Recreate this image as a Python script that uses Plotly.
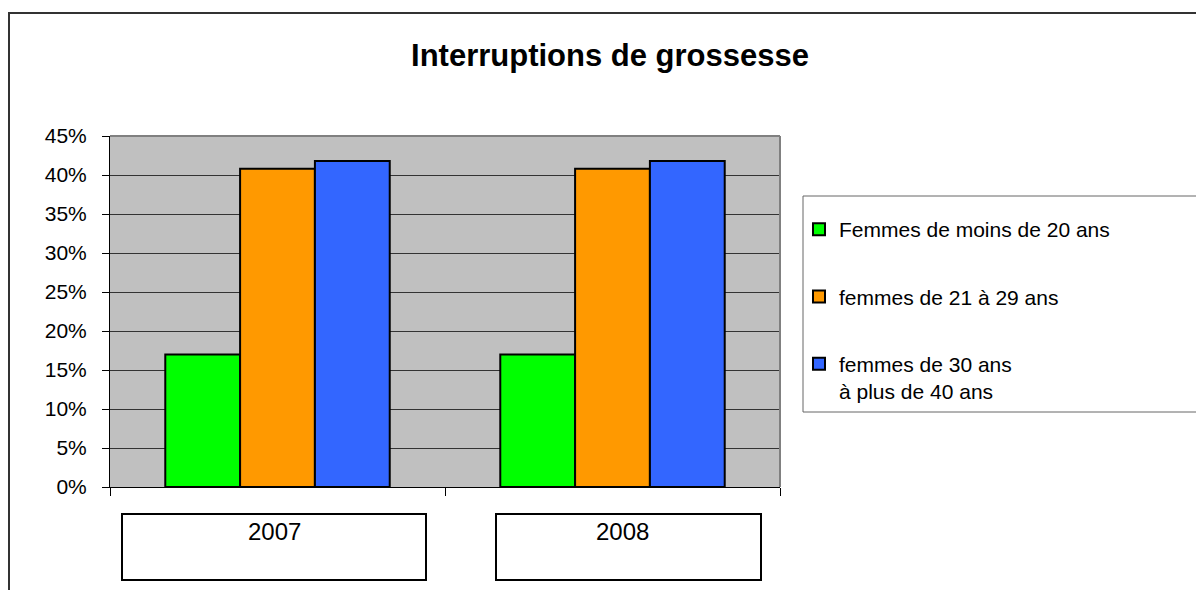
import plotly.graph_objects as go

years = ["2007", "2008"]
series_names = ["Femmes de moins de 20 ans", "femmes de 21 à 29 ans",
                "femmes de 30 ans<br>à plus de 40 ans"]
moins_20 = [0.17, 0.17]
de_21_29 = [0.408, 0.408]
de_30_40 = [0.418, 0.418]
colors = ["#00FF00", "#FF9900", "#3366FF"]
ytick_vals = [0, 0.05, 0.10, 0.15, 0.20, 0.25, 0.30, 0.35, 0.40, 0.45]

# the page body has an 8px margin: work in window pixels, shift by OFF
OFF = 8
W, H = 1204 - OFF, 590 - OFF
L, R, T, B = 110, 780, 136, 487   # plot area in window pixels

def px(x):
    return (x - L) / (R - L)

def py(y):
    return (B - y) / (B - T)

FONT = "Liberation Sans, Arial, sans-serif"

fig = go.Figure()
for i, (name, vals) in enumerate(zip(series_names, [moins_20, de_21_29, de_30_40])):
    fig.add_trace(go.Bar(
        x=years, y=vals, name=name, legendgroup=f"g{i}",
        marker=dict(color=colors[i], line=dict(color="#000000", width=2)),
    ))

shapes = []
# outer chart border
shapes.append(dict(type="rect", xref="paper", yref="paper",
                   x0=px(9), x1=px(1215), y0=py(600), y1=py(13),
                   line=dict(color="#333333", width=2), layer="below"))
# legend box
shapes.append(dict(type="rect", xref="paper", yref="paper",
                   x0=px(803), x1=px(1200), y0=py(412), y1=py(196),
                   line=dict(color="#666666", width=1)))
# category label boxes
for x0, x1 in [(122, 426), (496, 761)]:
    shapes.append(dict(type="rect", xref="paper", yref="paper",
                       x0=px(x0), x1=px(x1), y0=py(580), y1=py(514),
                       line=dict(color="#000000", width=2)))
# plot area border (top and right)
shapes.append(dict(type="line", xref="paper", yref="paper",
                   x0=0, x1=1, y0=1, y1=1, line=dict(color="#808080", width=2)))
shapes.append(dict(type="line", xref="paper", yref="paper",
                   x0=1, x1=1, y0=0, y1=1, line=dict(color="#808080", width=2)))

# category labels sitting in their boxes (x = category index on the axis)
label_shift = [-3, 10]
annotations = [dict(x=idx, xref="x", y=py(531), yref="paper", text=yr,
                    showarrow=False, xanchor="center", yanchor="middle",
                    xshift=s, font=dict(family=FONT, size=24, color="#000000"))
               for idx, (yr, s) in enumerate(zip(years, label_shift))]

fig.update_layout(
    width=W, height=H,
    margin=dict(l=L - OFF, r=W - (R - OFF), t=T - OFF, b=H - (B - OFF), pad=0),
    paper_bgcolor="#FFFFFF", plot_bgcolor="#C0C0C0",
    barmode="group", bargap=0.33, bargroupgap=0,
    font=dict(family=FONT, color="#000000", size=21),
    title=dict(text="<b>Interruptions de grossesse</b>",
               x=(610 - OFF) / W, xref="container", xanchor="center",
               y=1 - (55 - OFF) / H, yref="container", yanchor="middle",
               font=dict(family=FONT, size=31, color="#000000")),
    xaxis=dict(type="category", categoryorder="array", categoryarray=years,
               range=[-0.5, len(years) - 0.5],
               tickson="boundaries", ticks="outside", ticklen=8,
               tickcolor="#000000", showline=True, linecolor="#000000", linewidth=1,
               showgrid=False, showticklabels=False),
    yaxis=dict(range=[0, 0.45], tickvals=ytick_vals, tickformat=".0%",
               ticks="outside", ticklen=7, tickcolor="#000000",
               showline=True, linecolor="#000000", linewidth=1,
               showgrid=True, gridcolor="#333333", gridwidth=1,
               zeroline=False, ticklabelstandoff=11,
               tickfont=dict(family=FONT, size=21)),
    legend=dict(x=px(799), y=py(209), xanchor="left", yanchor="top",
                bgcolor="rgba(0,0,0,0)", borderwidth=0,
                tracegroupgap=37, valign="top",
                font=dict(family=FONT, size=21)),
    shapes=shapes,
    annotations=annotations,
)

fig.write_html("out.html")
